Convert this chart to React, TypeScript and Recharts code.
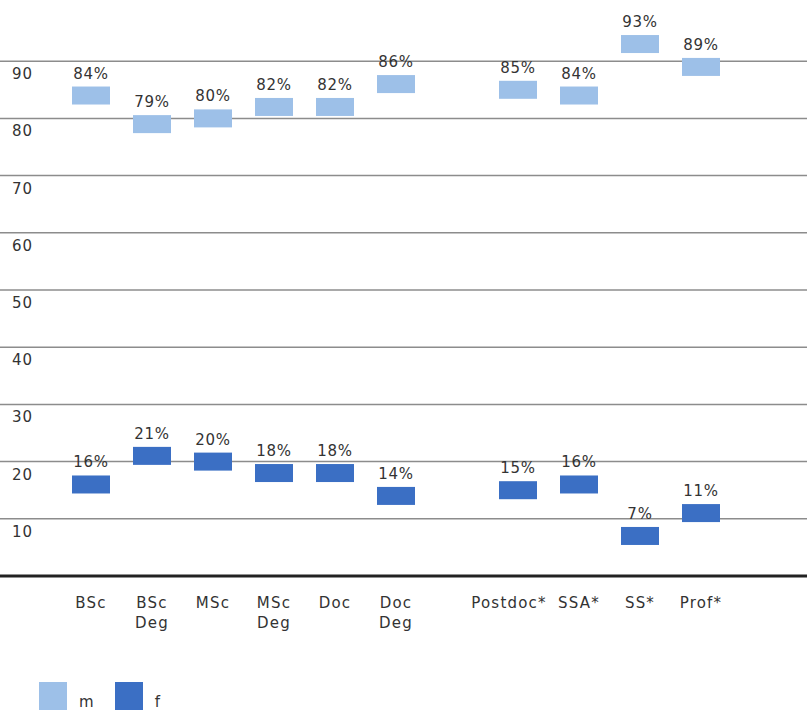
import React from 'react'
import {
  ComposedChart,
  Scatter,
  XAxis,
  YAxis,
  CartesianGrid,
  ReferenceLine,
  Legend,
} from 'recharts'

const categories = [
  'BSc',
  'BSc Deg',
  'MSc',
  'MSc Deg',
  'Doc',
  'Doc Deg',
  '',
  'Postdoc*',
  'SSA*',
  'SS*',
  'Prof*',
]
const male = [84, 79, 80, 82, 82, 86, null, 85, 84, 93, 89]
const female = [16, 21, 20, 18, 18, 14, null, 15, 16, 7, 11]
const yTicks = [0, 10, 20, 30, 40, 50, 60, 70, 80, 90]
const seriesOrder = ['m', 'f']

const COLORS = {
  m: '#9dc0e8',
  f: '#3b6fc4',
}

const FONT = "'DejaVu Sans', sans-serif"
const TEXT = '#333'

const data = categories.map((name, i) => ({ name, m: male[i], f: female[i] }))

// rectangle marker with its percentage above
const makeMarker = (key: 'm' | 'f') => (props: any) => {
  const { cx, cy, payload } = props
  const value = payload?.[key]
  if (value == null || cx == null || cy == null) return <g />
  return (
    <g>
      <rect x={cx - 19} y={cy - 9} width={38} height={18} fill={COLORS[key]} />
      <text
        x={cx}
        y={cy - 17}
        textAnchor='middle'
        fontSize={15}
        fill={TEXT}
        style={{ fontFamily: FONT, letterSpacing: 0.8 }}
      >
        {value}%
      </text>
    </g>
  )
}

const YTick = (props: any) => {
  const { y, payload } = props
  if (payload.value === 0) return null
  return (
    <text
      x={12}
      y={y + 18}
      fontSize={15}
      fill={TEXT}
      style={{ fontFamily: FONT, letterSpacing: 1 }}
    >
      {payload.value}
    </text>
  )
}

const XTick = (props: any) => {
  const { x, y, payload } = props
  const label = String(payload.value)
  const lines = label.split(' ')
  // long single-line labels lean left so they clear the next one
  const shift = label.length > 6 && lines.length === 1 ? -9 : 0
  return (
    <text
      x={x + shift}
      y={y}
      textAnchor='middle'
      fontSize={15}
      fill={TEXT}
      style={{ fontFamily: FONT, letterSpacing: 1.2 }}
    >
      {lines.map((line, i) => (
        <tspan key={i} x={x + shift} y={y + 32 + i * 20}>
          {line}
        </tspan>
      ))}
    </text>
  )
}

const LegendContent = (props: any) => {
  const { payload = [] } = props
  const items = [...payload].sort(
    (a: any, b: any) => seriesOrder.indexOf(a.value) - seriesOrder.indexOf(b.value)
  )
  return (
    <div
      style={{
        display: 'flex',
        alignItems: 'flex-end',
        height: 38,
        paddingTop: 6,
        paddingLeft: 39,
        boxSizing: 'border-box',
      }}
    >
      {items.map((entry: any) => (
        <div
          key={entry.value}
          style={{ display: 'flex', alignItems: 'flex-end', marginRight: 21 }}
        >
          <div style={{ width: 28, height: 28, background: entry.color }} />
          <span
            style={{
              marginLeft: 12,
              fontFamily: FONT,
              fontSize: 15,
              color: TEXT,
              lineHeight: '15px',
            }}
          >
            {entry.value}
          </span>
        </div>
      ))}
    </div>
  )
}

export default function App() {
  return (
    <div
      style={{
        position: 'absolute',
        left: 0,
        top: 0,
        width: 807,
        height: 710,
        background: '#fff',
      }}
    >
      <ComposedChart
        width={807}
        height={710}
        data={data}
        margin={{ top: 4, right: 0, left: 0, bottom: 0 }}
      >
        <CartesianGrid
          vertical={false}
          horizontalValues={yTicks}
          stroke='#8c8c8c'
          strokeWidth={1.5}
        />
        <XAxis
          dataKey='name'
          height={96}
          axisLine={false}
          tickLine={false}
          tickSize={0}
          tickMargin={0}
          interval={0}
          padding={{ left: 91, right: 106 }}
          tick={<XTick />}
        />
        <YAxis
          mirror
          width={40}
          domain={[0, 100]}
          ticks={yTicks}
          axisLine={false}
          tickLine={false}
          tick={<YTick />}
        />
        <ReferenceLine y={0} stroke='#222' strokeWidth={3} />
        <Scatter
          name='m'
          dataKey='m'
          fill={COLORS.m}
          shape={makeMarker('m')}
          isAnimationActive={false}
        />
        <Scatter
          name='f'
          dataKey='f'
          fill={COLORS.f}
          shape={makeMarker('f')}
          isAnimationActive={false}
        />
        <Legend
          verticalAlign='bottom'
          align='left'
          wrapperStyle={{ left: 0, width: 807 }}
          content={<LegendContent />}
        />
      </ComposedChart>
    </div>
  )
}
